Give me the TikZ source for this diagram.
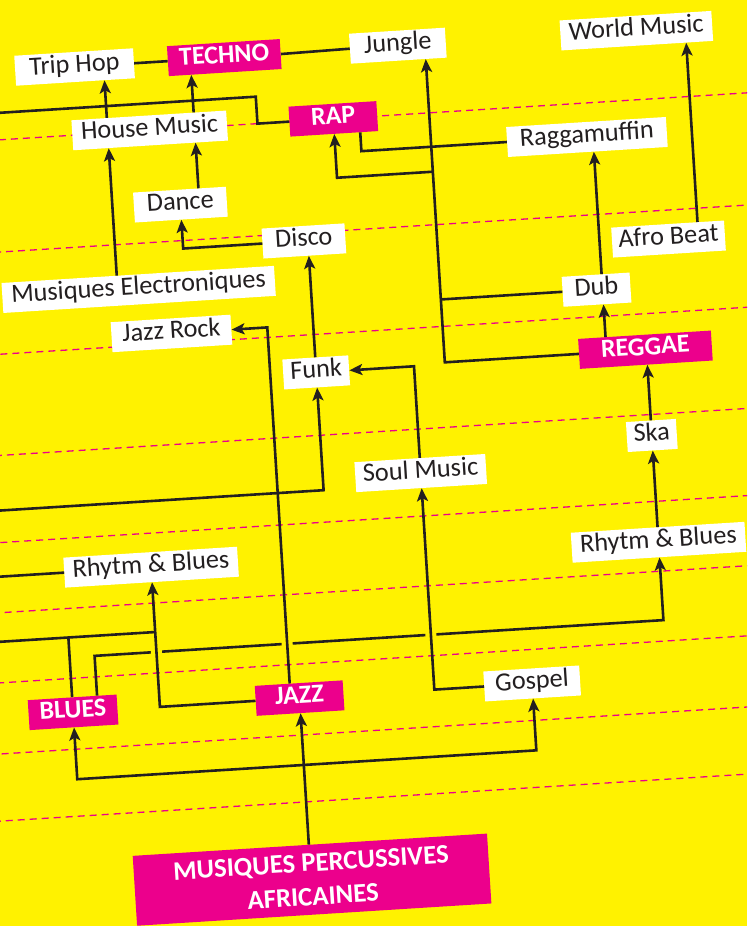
\documentclass[tikz,border=0pt]{standalone}
\usepackage{fontspec}
\setmainfont{Carlito}
\usetikzlibrary{arrows.meta,calc}
\definecolor{bgy}{HTML}{FFF200}
\definecolor{mag}{HTML}{EC008C}
\definecolor{ink}{HTML}{231F20}
\begin{document}
\begin{tikzpicture}[x=1pt,y=-1pt,
  wbox/.style={fill=white, text=ink, inner sep=0pt, minimum height=30pt, text height=17.5pt, text depth=7pt, font=\fontsize{26.3}{30}\selectfont},
  mbox/.style={fill=mag, text=white, inner sep=0pt, minimum height=30pt, text height=17.5pt, text depth=7pt, font=\fontsize{26}{30}\selectfont\bfseries},
  bigbox/.style={fill=mag, text=white, inner sep=0pt, minimum height=70pt, align=center, font=\fontsize{26.8}{34}\selectfont\bfseries},
  conn/.style={draw=ink, line width=2.6pt},
  arr/.style={conn, -{Stealth[length=13pt,width=11pt,inset=3pt]}},
  guide/.style={draw=mag, line width=1.3pt, dash pattern=on 7pt off 5pt}]
\useasboundingbox (0,0) rectangle (747,926);
\fill[bgy] (0,0) rectangle (747,926);
\clip (0,0) rectangle (747,926);
\begin{pgflowlevelscope}{\pgftransformshift{\pgfpoint{373.5pt}{-463pt}}\pgftransformrotate{3.6}\pgftransformshift{\pgfpoint{-373.5pt}{463pt}}}
% dashed guide lines
\foreach \v in {117,229,331,432,519,589,659,730,797}
  \draw[guide] (-40,\v) -- (790,\v);
% nodes
\node[wbox, minimum width=119pt] (trip) at (100,49) {Trip Hop};
\node[mbox, minimum width=113pt] (techno) at (250,49) {TECHNO};
\node[wbox, minimum width=96pt] (jungle) at (424,48) {Jungle};
\node[wbox, minimum width=152pt] (world) at (663,48) {World Music};
\node[wbox, minimum width=155pt] (house) at (171,117) {House Music};
\node[mbox, minimum width=88pt] (rap) at (355,117) {RAP};
\node[wbox, minimum width=160pt] (ragga) at (607,151) {Raggamuffin};
\node[wbox, minimum width=93pt] (dance) at (197,193) {Dance};
\node[wbox, minimum width=83pt] (disco) at (318,237) {Disco};
\node[wbox, minimum width=113pt] (afro) at (682,258) {Afro Beat};
\node[wbox, minimum width=273pt] (elec) at (150,275) {Musiques Electroniques};
\node[wbox, minimum width=68pt] (dub) at (607,304) {Dub};
\node[wbox, minimum width=120pt] (jrock) at (180,321) {Jazz Rock};
\node[mbox, minimum width=133pt] (reggae) at (652,367) {REGGAE};
\node[wbox, minimum width=66pt] (funk) at (322,369) {Funk};
\node[wbox, minimum width=50pt] (ska) at (653,453) {Ska};
\node[wbox, minimum width=131pt] (soul) at (420,476) {Soul Music};
\node[wbox, minimum width=174pt] (rbl) at (145,553) {Rhytm \& Blues};
\node[wbox, minimum width=174pt] (rbr) at (653,560) {Rhytm \& Blues};
\node[mbox, minimum width=89pt] (blues) at (58,693) {BLUES};
\node[mbox, minimum width=88pt] (jazz) at (285,693) {JAZZ};
\node[wbox, minimum width=96pt] (gospel) at (518,693) {Gospel};
\node[bigbox, minimum width=355pt] (mpa) at (286,875) {MUSIQUES PERCUSSIVES\\AFRICAINES};
% helper coordinates
\coordinate (cA) at (129,0);
\coordinate (cB) at (216,0);
\coordinate (cC) at (381,0);
\coordinate (cJ) at (451,0);
\coordinate (cD) at (613,0);
\coordinate (cE) at (712,0);
\coordinate (cF) at (83,0);
\coordinate (cG) at (276,0);
\coordinate (rapL) at (-40,90);
\coordinate (rapK) at (279,90);
\coordinate (jr) at (451,176);
\coordinate (h638) at (0,638);
\coordinate (l618) at (-40,618);
\coordinate (l487) at (-40,487);
\coordinate (l553) at (-40,553);
\coordinate (h760) at (0,760);
% line with hops (drawn first)
\draw[arr] (blues.north -| cF) |- (h638 -| rbr.south) -- (rbr.south);
\foreach \u in {145,276,420}
  \fill[bgy] (\u-5.5,634) rectangle (\u+5.5,642);
% connectors
\draw[conn] (trip.east) -- (techno.west);
\draw[conn] (techno.east) -- (jungle.west);
\draw[arr] (elec.north -| cA) -- (house.south -| cA);
\draw[arr] (house.north -| cA) -- (trip.south -| cA);
\draw[arr] (dance.north -| cB) -- (house.south -| cB);
\draw[arr] (house.north -| cB) -- (techno.south -| cB);
\draw[arr] (disco.west) -| (dance.south);
\draw[conn] (rapL) -- (rapK) |- (rap.west);
\draw[conn] (rap.south -| cC) |- (ragga.west);
\draw[arr] (reggae.west) -| (jungle.south -| cJ);
\draw[arr] (jr) -| (rap.south);
\draw[conn] (dub.west) -- (dub.west -| cJ);
\draw[arr] (reggae.north -| cD) -- (dub.south -| cD);
\draw[arr] (dub.north -| cD) -- (ragga.south -| cD);
\draw[arr] (afro.north -| cE) -- (world.south -| cE);
\draw[arr] (ska.north) -- (reggae.south -| ska.north);
\draw[arr] (rbr.north) -- (ska.south);
\draw[arr] (jazz.west) -| (rbl.south);
\draw[conn] (l618) -- (l618 -| rbl.south);
\draw[conn] (blues.north) -- (blues.north |- l618);
\draw[arr] (jazz.north -| cG) |- (jrock.east);
\draw[arr] (l487) -| (funk.south);
\draw[arr] (funk.north) -- (funk.north |- disco.south);
\draw[arr] (soul.north) |- (funk.east);
\draw[arr] (gospel.west) -| (soul.south);
\draw[conn] (l553) -- (rbl.west);
\draw[arr] (jazz.south |- mpa.north) -- (jazz.south);
\draw[arr] (h760 -| jazz.south) -| (blues.south);
\draw[arr] (h760 -| jazz.south) -| (gospel.south);
\end{pgflowlevelscope}
\end{tikzpicture}
\end{document}
